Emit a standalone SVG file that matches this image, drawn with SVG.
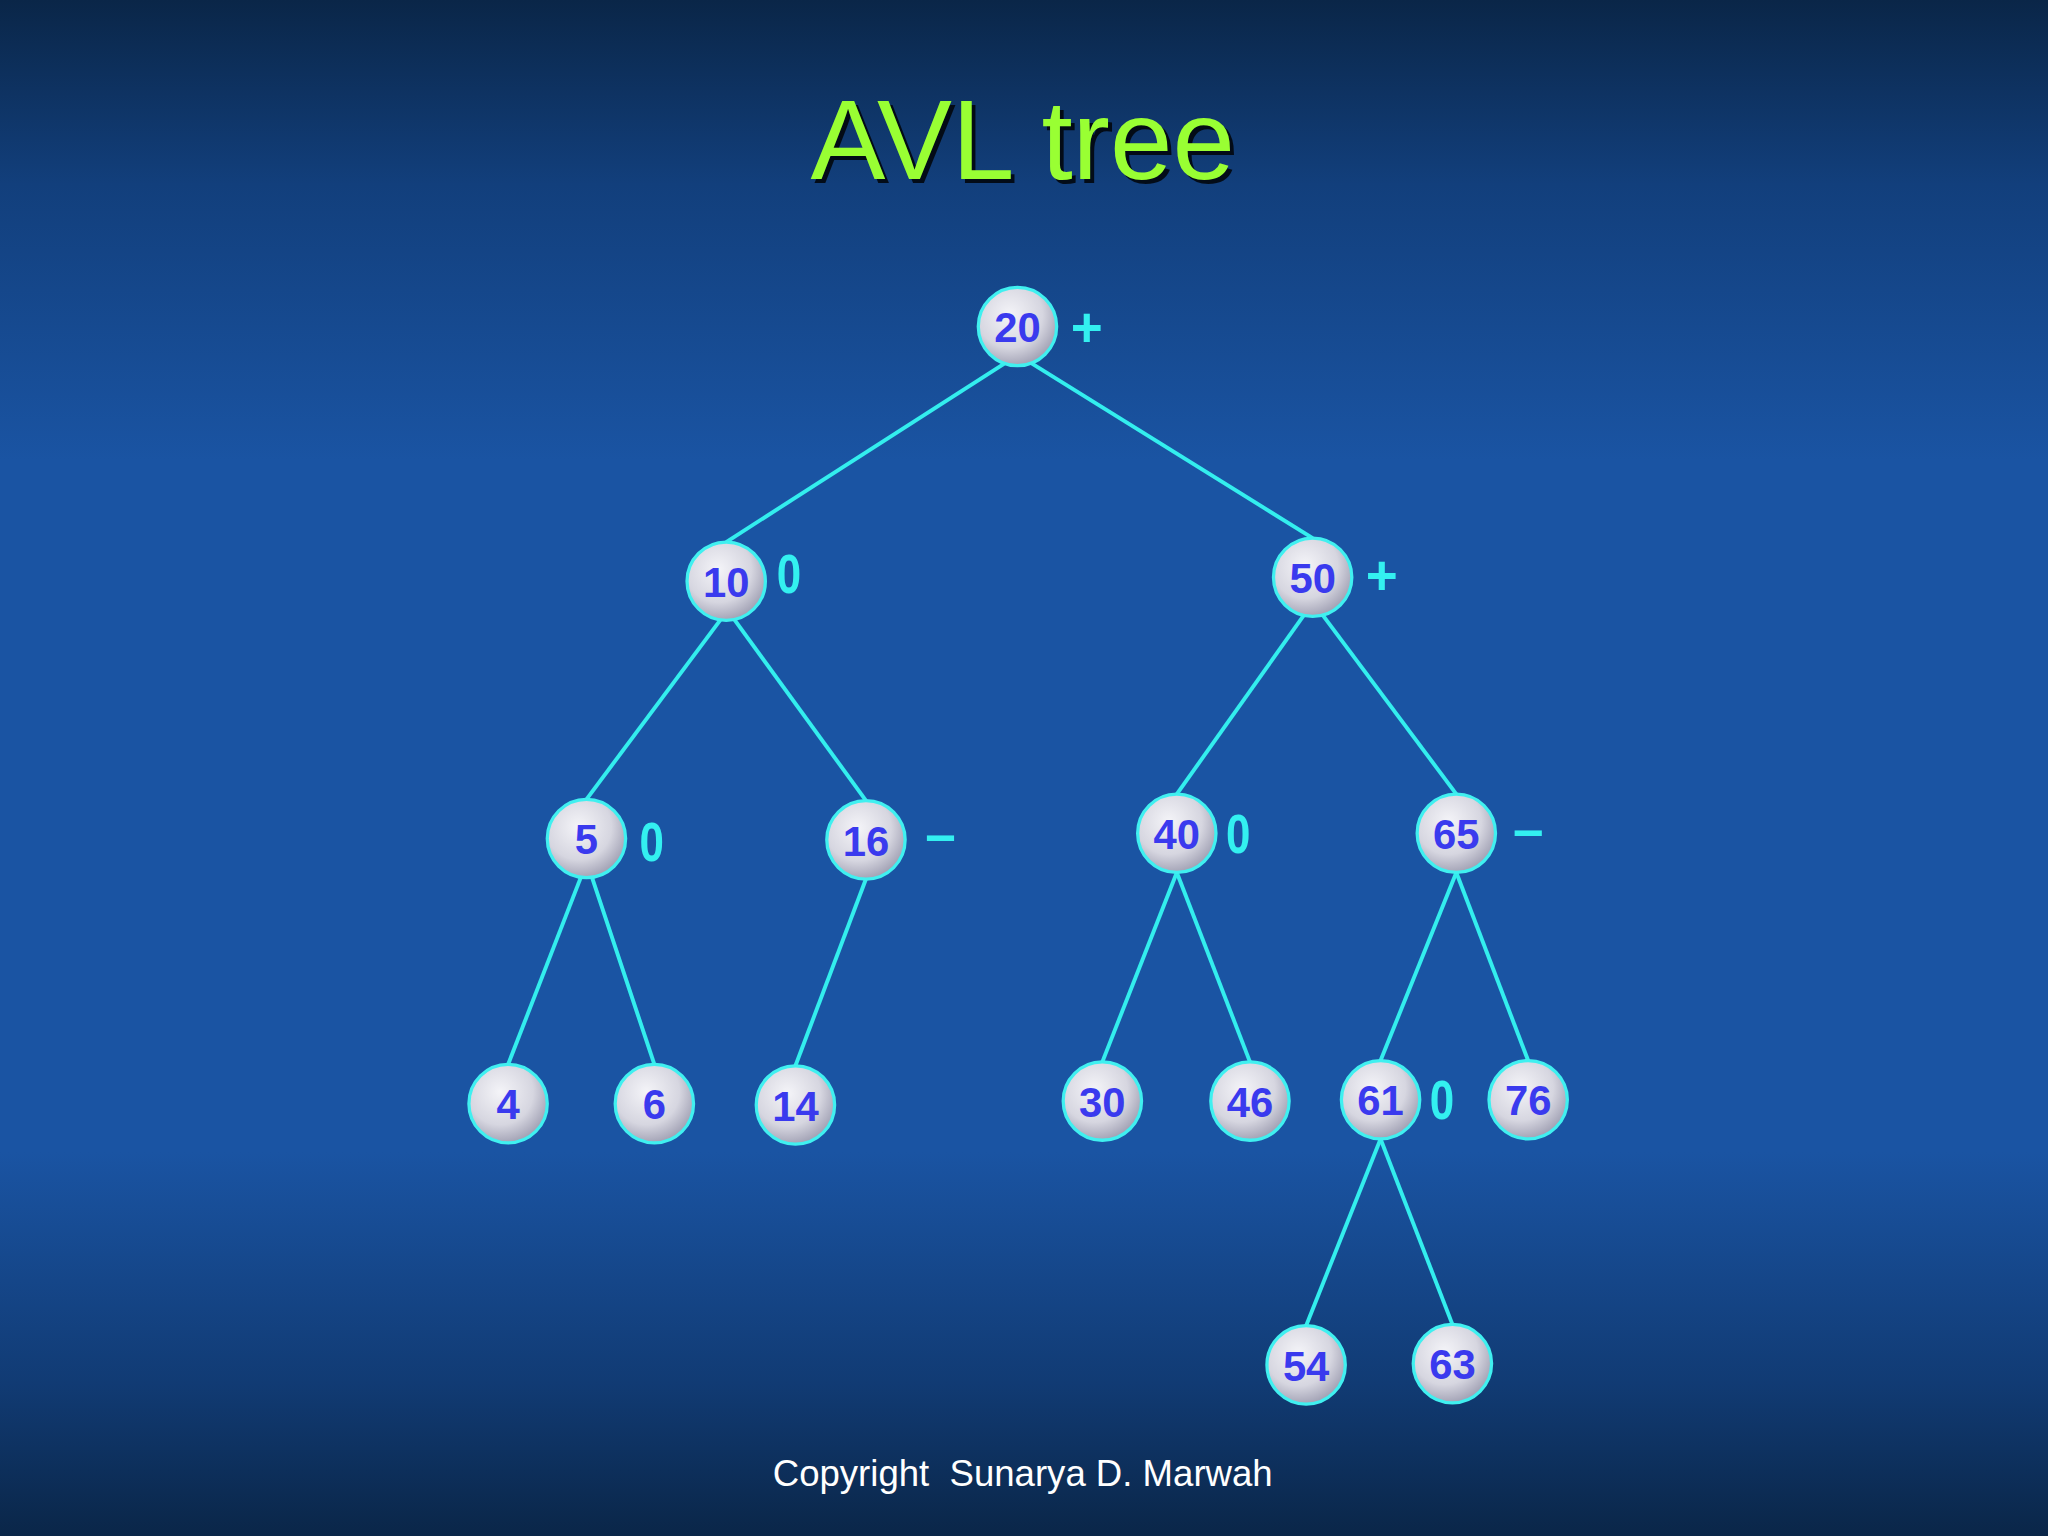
<svg xmlns="http://www.w3.org/2000/svg" width="2048" height="1536" viewBox="0 0 2048 1536">
<defs>
<linearGradient id="bg" x1="0" y1="0" x2="0" y2="1">
<stop offset="0" stop-color="#0a2648"/>
<stop offset="0.12" stop-color="#123f7c"/>
<stop offset="0.3" stop-color="#1a54a3"/>
<stop offset="0.75" stop-color="#1a54a3"/>
<stop offset="0.9" stop-color="#113b74"/>
<stop offset="1" stop-color="#0a2648"/>
</linearGradient>
<radialGradient id="ng" cx="0.4" cy="0.35" r="0.7">
<stop offset="0" stop-color="#f4f4f8"/>
<stop offset="0.6" stop-color="#d6d6e0"/>
<stop offset="1" stop-color="#9a9aae"/>
</radialGradient>
<style>
.n circle{fill:url(#ng);stroke:#40f0f0;stroke-width:2.5}
.n text{font-family:"Liberation Sans",Arial,sans-serif;font-weight:bold;font-size:32px;fill:#3a3aee;text-anchor:middle}
.b{font-family:"Liberation Sans",Arial,sans-serif;font-weight:bold;font-size:42px;fill:#33f0f0;text-anchor:middle}
#edges line{stroke:#33eeee;stroke-width:3}
</style>
</defs>
<rect width="2048" height="1536" fill="url(#bg)"/>
<g transform="scale(1.30612)">
<text x="786" y="140" font-family="Liberation Sans,Arial,sans-serif" font-size="86" fill="#000" fill-opacity="0.8" text-anchor="middle">AVL tree</text>
<text x="783" y="137" font-family="Liberation Sans,Arial,sans-serif" font-size="86" fill="#99ff33" text-anchor="middle">AVL tree</text>
<g id="edges">
<line x1="771" y1="277" x2="556" y2="415"/><line x1="788" y1="277" x2="1005" y2="412"/>
<line x1="552" y1="474" x2="449" y2="612"/><line x1="562" y1="474" x2="663" y2="613"/>
<line x1="999" y1="470" x2="901" y2="608"/><line x1="1012" y1="470" x2="1115" y2="608"/>
<line x1="445" y1="671" x2="389" y2="815"/><line x1="453" y1="671" x2="501" y2="815"/>
<line x1="663" y1="673" x2="609" y2="816"/>
<line x1="901" y1="668" x2="844" y2="813"/><line x1="901" y1="668" x2="957" y2="813"/>
<line x1="1115" y1="668" x2="1057" y2="812"/><line x1="1115" y1="668" x2="1170" y2="812"/>
<line x1="1057" y1="872" x2="1000" y2="1015"/><line x1="1057" y1="872" x2="1112" y2="1014"/>
</g>
<g id="n20" class="n"><circle cx="779" cy="250" r="30"/><text x="779" y="262">20</text></g>
<g id="n10" class="n"><circle cx="556" cy="445" r="30"/><text x="556" y="457">10</text></g>
<g id="n50" class="n"><circle cx="1005" cy="442" r="30"/><text x="1005" y="454">50</text></g>
<g id="n5" class="n"><circle cx="449" cy="642" r="30"/><text x="449" y="654">5</text></g>
<g id="n16" class="n"><circle cx="663" cy="643" r="30"/><text x="663" y="655">16</text></g>
<g id="n40" class="n"><circle cx="901" cy="638" r="30"/><text x="901" y="650">40</text></g>
<g id="n65" class="n"><circle cx="1115" cy="638" r="30"/><text x="1115" y="650">65</text></g>
<g id="n4" class="n"><circle cx="389" cy="845" r="30"/><text x="389" y="857">4</text></g>
<g id="n6" class="n"><circle cx="501" cy="845" r="30"/><text x="501" y="857">6</text></g>
<g id="n14" class="n"><circle cx="609" cy="846" r="30"/><text x="609" y="858">14</text></g>
<g id="n30" class="n"><circle cx="844" cy="843" r="30"/><text x="844" y="855">30</text></g>
<g id="n46" class="n"><circle cx="957" cy="843" r="30"/><text x="957" y="855">46</text></g>
<g id="n61" class="n"><circle cx="1057" cy="842" r="30"/><text x="1057" y="854">61</text></g>
<g id="n76" class="n"><circle cx="1170" cy="842" r="30"/><text x="1170" y="854">76</text></g>
<g id="n54" class="n"><circle cx="1000" cy="1045" r="30"/><text x="1000" y="1057">54</text></g>
<g id="n63" class="n"><circle cx="1112" cy="1044" r="30"/><text x="1112" y="1056">63</text></g>
<text class="b" x="832" y="265">+</text>
<text class="b" x="604" y="454" transform="translate(604 0) scale(0.8 1) translate(-604 0)">0</text>
<text class="b" x="1058" y="455">+</text>
<text class="b" x="499" y="659" transform="translate(499 0) scale(0.8 1) translate(-499 0)">0</text>
<text class="b" x="720" y="653">–</text>
<text class="b" x="948" y="653" transform="translate(948 0) scale(0.8 1) translate(-948 0)">0</text>
<text class="b" x="1170" y="649">–</text>
<text class="b" x="1104" y="857" transform="translate(1104 0) scale(0.8 1) translate(-1104 0)">0</text>
<text x="783" y="1138" font-family="Liberation Sans,Arial,sans-serif" font-size="28" fill="#ffffff" text-anchor="middle">Copyright&#160; Sunarya D. Marwah</text>
</g>
</svg>
